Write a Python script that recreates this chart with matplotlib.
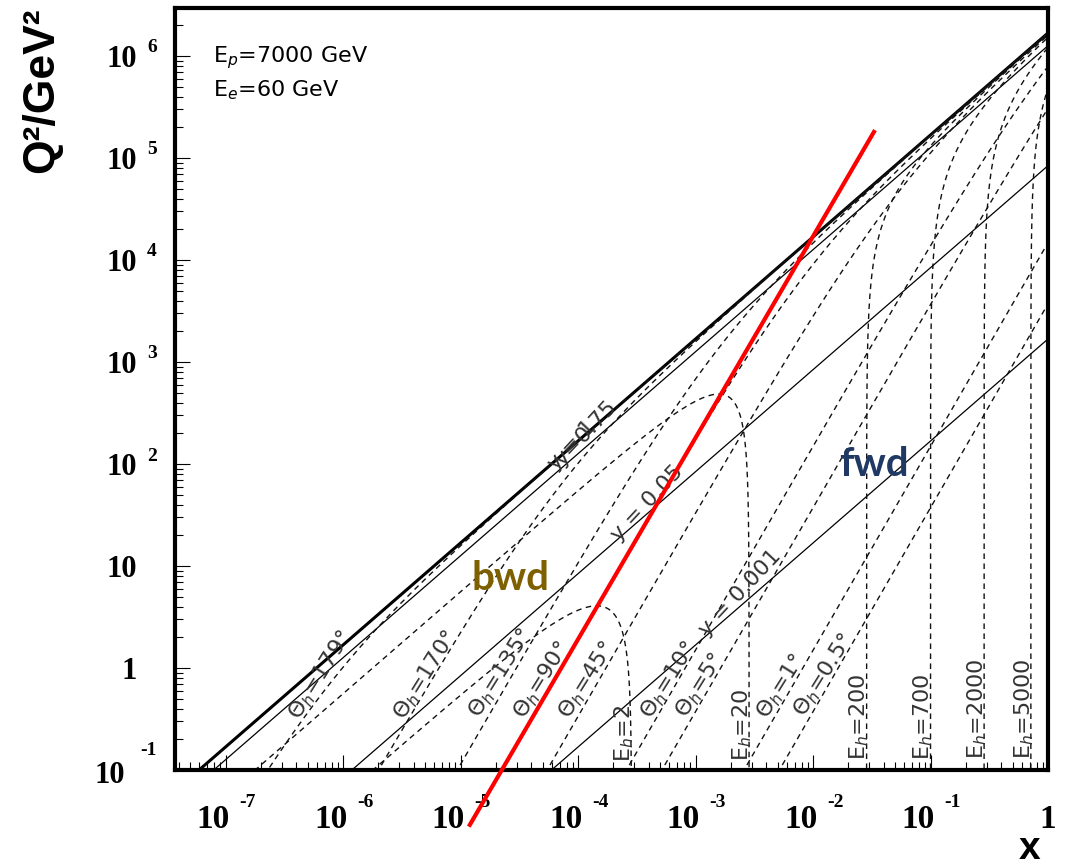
import numpy as np
import matplotlib
matplotlib.use("Agg")
import matplotlib.pyplot as plt
from matplotlib.ticker import LogLocator, NullFormatter

# beam energies (GeV)
E_P = 7000.0
E_E = 60.0

# lines of constant inelasticity, hadron angle (deg) and hadron energy (GeV)
Y_LINES = [1, 0.75, 0.05, 0.001]
THETA_DEG = [179, 170, 135, 90, 45, 10, 5, 1, 0.5]
E_HAD = [2, 20, 200, 700, 2000, 5000]

# red overlay line (x, Q2 of its two ends)
RED_X = [1.2e-5, 3.3e-2]
RED_Q2 = [0.029, 1.8e5]

X_DECADES = [-7, -6, -5, -4, -3, -2, -1, 0]
Y_DECADES = [-1, 0, 1, 2, 3, 4, 5, 6]

S = 4 * E_P * E_E


def theta_curve(theta):
    t2 = np.tan(np.radians(theta) / 2) ** 2
    y = np.concatenate([np.logspace(-9, -0.31, 600), 1 - np.logspace(-0.31, -9, 600)])
    q2 = 4 * y**2 * E_E**2 / (t2 * (1 - y))
    return q2 / (S * y), q2


def energy_curve(e):
    x0 = e / E_P
    if e < E_E:
        u = np.sort(np.concatenate([np.logspace(-6, -0.01, 800), 1 - np.logspace(-0.5, -10, 800)]))
        x = x0 * u
        y = (e - x * E_P) / (E_E - x * E_P)
    else:
        v = np.logspace(-10, np.log10(E_P / e - 1), 1200)
        x = x0 * (1 + v)
        y = (x * E_P - e) / (x * E_P - E_E)
    return x, S * x * y


fig = plt.figure(figsize=(10.68, 8.68), dpi=100)
ax = fig.add_axes([175 / 1068, 98 / 868, 873 / 1068, 762 / 868])
ax.set_xscale('log')
ax.set_yscale('log')
ax.set_xlim(10**-7.43, 1)
ax.set_ylim(0.1, 10**6.47)

dash = (0, (4, 3.2))
xs = np.logspace(-9, 0, 50)
for yv in Y_LINES:
    ax.plot(xs, S * xs * yv, color='black', lw=2.2 if yv == 1 else 0.9)
for th in THETA_DEG:
    x, q2 = theta_curve(th)
    ax.plot(x, q2, color='#111111', lw=1.0, linestyle=dash)
for e in E_HAD:
    x, q2 = energy_curve(e)
    ax.plot(x, q2, color='#111111', lw=1.0, linestyle=dash)

ax.plot(RED_X, RED_Q2, color='red', lw=3, clip_on=False, zorder=5)

# labels on the lines
lab = dict(fontsize=16, color='#333333', ha='center', va='center', rotation_mode='anchor')
y_label_pos = [(8.97e-5, 154), (1.16e-4, 201), (3.9e-4, 41.5), (2.41e-3, 5.4)]
y_label_txt = ['y = 1', 'y=0.75', 'y = 0.05', 'y = 0.001']
for (px, py), t in zip(y_label_pos, y_label_txt):
    ax.text(px, py, t, rotation=47, **lab)

theta_label_pos = [(6.4e-7, 0.85), (5.0e-6, 0.85), (2.2e-5, 0.89), (4.9e-5, 0.76), (1.2e-4, 0.76),
                   (5.9e-4, 0.76), (1.1e-3, 0.68), (5.3e-3, 0.67), (1.23e-2, 0.85)]
for (px, py), th in zip(theta_label_pos, THETA_DEG):
    ax.text(px, py, r'$\Theta_h$=%g°' % th, rotation=58, **lab)

e_label_q2 = [0.23, 0.28, 0.33, 0.33, 0.40, 0.40]
for e, q in zip(E_HAD, e_label_q2):
    ax.annotate(r'E$_h$=%g' % e, (e / E_P, q), xytext=(-5, 0), textcoords='offset points',
                rotation=90, fontsize=16, color='#333333', ha='center', va='center')

ax.text(0.0435, 0.929, r'E$_p$=7000 GeV', transform=ax.transAxes, fontsize=16, va='baseline')
ax.text(0.0435, 0.8845, r'E$_e$=60 GeV', transform=ax.transAxes, fontsize=16, va='baseline')

ax.text(2.67e-5, 7.6, 'bwd', fontsize=29, fontweight='bold', family='Lato', color='#7F6000',
        ha='center', va='center')
ax.text(3.27e-2, 98, 'fwd', fontsize=29, fontweight='bold', family='Lato', color='#1F3864',
        ha='center', va='center')

# frame and ticks
for sp in ax.spines.values():
    sp.set_linewidth(3)
ax.xaxis.set_major_locator(LogLocator(base=10, numticks=20))
ax.yaxis.set_major_locator(LogLocator(base=10, numticks=20))
ax.xaxis.set_minor_locator(LogLocator(base=10, subs=np.arange(2, 10), numticks=20))
ax.yaxis.set_minor_locator(LogLocator(base=10, subs=np.arange(2, 10), numticks=20))
ax.xaxis.set_minor_formatter(NullFormatter())
ax.yaxis.set_minor_formatter(NullFormatter())
ax.tick_params(which='both', direction='in', top=False, right=False,
               labelbottom=False, labelleft=False, width=0.8)
ax.tick_params(which='major', length=11)
ax.tick_params(which='minor', length=5.5)

# ROOT style tick labels
num = dict(family='Liberation Serif', fontweight='bold', textcoords='offset points', va='baseline')
for d in X_DECADES:
    if d == 0:
        ax.annotate('1', (1, 0), xycoords=('data', 'axes fraction'), xytext=(0, -41.8),
                    fontsize=24, ha='center', **num)
        continue
    ax.annotate('10', (10.0**d, 0), xycoords=('data', 'axes fraction'), xytext=(3, -41.8),
                fontsize=24, ha='right', **num)
    ax.annotate('%d' % d, (10.0**d, 0), xycoords=('data', 'axes fraction'), xytext=(10, -26.6),
                fontsize=14, ha='left', **num)
for d in Y_DECADES:
    if d in (0, 1):
        ax.annotate('1' if d == 0 else '10', (0, 10.0**d), xycoords=('axes fraction', 'data'),
                    xytext=(-27.4, -7.9), fontsize=22, ha='right', **num)
    elif d < 0:
        ax.annotate('10', (0, 10.0**d), xycoords=('axes fraction', 'data'),
                    xytext=(-36, -9.4), fontsize=22, ha='right', **num)
        ax.annotate('%d' % d, (0, 10.0**d), xycoords=('axes fraction', 'data'),
                    xytext=(-25, 10.8), fontsize=14, ha='left', **num)
    else:
        ax.annotate('10', (0, 10.0**d), xycoords=('axes fraction', 'data'),
                    xytext=(-27.4, -7.9), fontsize=22, ha='right', **num)
        ax.annotate('%d' % d, (0, 10.0**d), xycoords=('axes fraction', 'data'),
                    xytext=(-20, 2.5), fontsize=14, ha='left', **num)

fig.text(42 / 1068, 1 - 90 / 868, 'Q²/GeV²', rotation=90, fontsize=32, fontweight='bold',
         family='Liberation Sans', ha='center', va='center')
fig.text(1030 / 1068, 1 - 859 / 868, 'x', fontsize=28, fontweight='bold',
         family='Liberation Sans', ha='center', va='baseline')

fig.savefig('out.png', dpi=100)
